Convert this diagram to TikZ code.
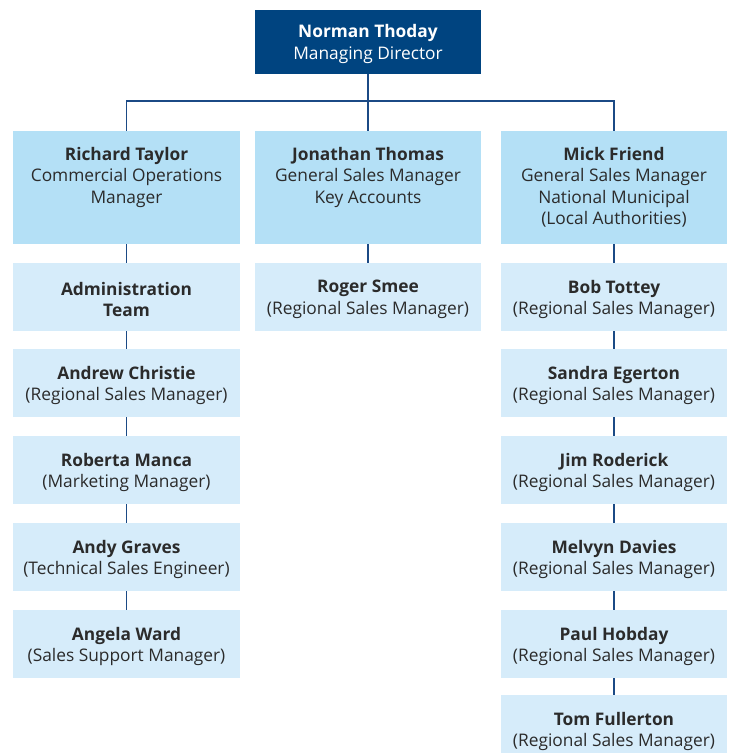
\documentclass[tikz,border=0pt]{standalone}
\usepackage{fontspec}
\setmainfont{Open Sans}
\definecolor{topblue}{RGB}{0,68,128}
\definecolor{midblue}{RGB}{180,224,246}
\definecolor{paleblue}{RGB}{214,236,250}
\definecolor{linkblue}{RGB}{27,74,133}
\definecolor{txt}{RGB}{43,43,43}
\newcommand{\lvlone}[1]{\parbox[c][84.75pt][t]{170pt}{\centering\vspace*{12pt}#1}}
\newcommand{\headtext}[1]{\parbox[c][48pt][c]{169.5pt}{\centering\vspace*{3pt}#1}}
\newcommand{\stafftext}[1]{\parbox[c][51pt][c]{170pt}{\centering\vspace*{3.5pt}#1}}
\begin{document}
\begin{tikzpicture}[x=0.75pt,y=-0.75pt,
  every node/.style={font=\fontsize{13}{16.2}\selectfont, text=txt},
  headbox/.style={fill=topblue, text=white, inner sep=0pt},
  mgrbox/.style={fill=midblue, inner sep=0pt},
  staffbox/.style={fill=paleblue, inner sep=0pt},
  link/.style={draw=linkblue, line width=1pt}]
\useasboundingbox (0,0) rectangle (734,753);
\clip (0,0) rectangle (734,753);
% head
\node[headbox] (top) at (368,42) {\headtext{\textbf{Norman Thoday}\\Managing Director}};
% level one
\node[mgrbox] (lt) at (126.5,187.5) {\lvlone{\textbf{Richard Taylor}\\Commercial Operations\\Manager}};
\node[mgrbox] (mt) at (368,187.5) {\lvlone{\textbf{Jonathan Thomas}\\General Sales Manager\\Key Accounts}};
\node[mgrbox] (rt) at (614,187.5) {\lvlone{\textbf{Mick Friend}\\General Sales Manager\\National Municipal\\(Local Authorities)}};
\coordinate (j) at (368,101);
% left column
\node[staffbox] (l1) at (126.5,297) {\stafftext{\textbf{Administration}\\\textbf{Team}}};
\node[staffbox] (l2) at (126.5,383) {\stafftext{\textbf{Andrew Christie}\\(Regional Sales Manager)}};
\node[staffbox] (l3) at (126.5,470) {\stafftext{\textbf{Roberta Manca}\\(Marketing Manager)}};
\node[staffbox] (l4) at (126.5,557) {\stafftext{\textbf{Andy Graves}\\(Technical Sales Engineer)}};
\node[staffbox] (l5) at (126.5,644) {\stafftext{\textbf{Angela Ward}\\(Sales Support Manager)}};
% middle column
\node[staffbox] (m1) at (368,297) {\stafftext{\textbf{Roger Smee}\\(Regional Sales Manager)}};
% right column
\node[staffbox] (r1) at (614,297) {\stafftext{\textbf{Bob Tottey}\\(Regional Sales Manager)}};
\node[staffbox] (r2) at (614,383) {\stafftext{\textbf{Sandra Egerton}\\(Regional Sales Manager)}};
\node[staffbox] (r3) at (614,470) {\stafftext{\textbf{Jim Roderick}\\(Regional Sales Manager)}};
\node[staffbox] (r4) at (614,557) {\stafftext{\textbf{Melvyn Davies}\\(Regional Sales Manager)}};
\node[staffbox] (r5) at (614,644) {\stafftext{\textbf{Paul Hobday}\\(Regional Sales Manager)}};
\node[staffbox] (r6) at (614,729) {\stafftext{\textbf{Tom Fullerton}\\(Regional Sales Manager)}};
% connectors
\draw[link] (top.south) -- (mt.north);
\draw[link] (lt.north) |- (j) -| (rt.north);
\draw[link] (lt.south) -- (l1.north);
\draw[link] (l1.south) -- (l2.north);
\draw[link] (l2.south) -- (l3.north);
\draw[link] (l3.south) -- (l4.north);
\draw[link] (l4.south) -- (l5.north);
\draw[link] (mt.south) -- (m1.north);
\draw[link] (rt.south) -- (r1.north);
\draw[link] (r1.south) -- (r2.north);
\draw[link] (r2.south) -- (r3.north);
\draw[link] (r3.south) -- (r4.north);
\draw[link] (r4.south) -- (r5.north);
\draw[link] (r5.south) -- (r6.north);
\end{tikzpicture}
\end{document}
